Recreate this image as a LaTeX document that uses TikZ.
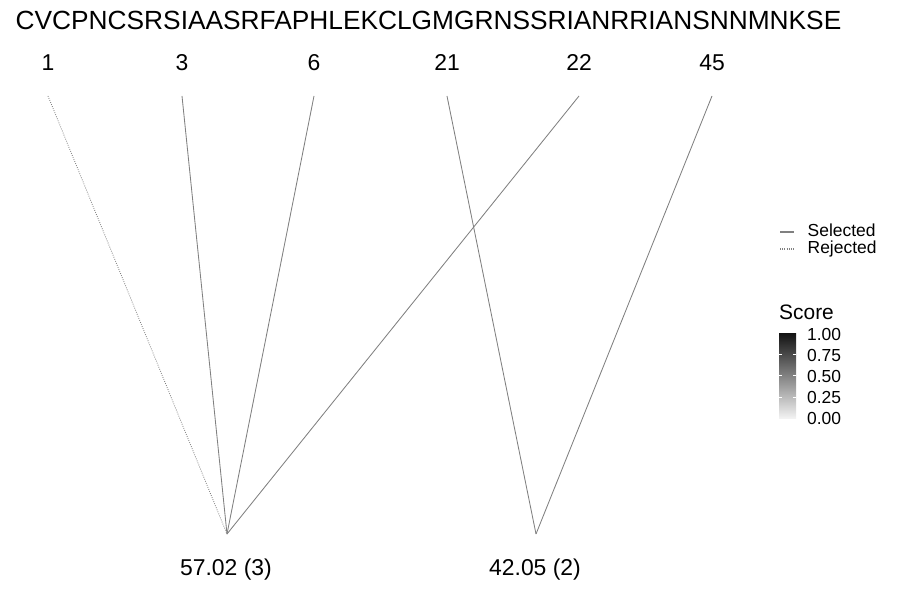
\documentclass[tikz,border=0pt]{standalone}
\usepackage{fontspec}
\setmainfont{Liberation Sans}
\tikzset{
    seqlabel/.style={anchor=base, inner sep=0pt, font=\fontsize{26.4}{30}\selectfont},
    poslabel/.style={anchor=base, inner sep=0pt, font=\fontsize{23}{27}\selectfont},
    keytext/.style={anchor=base west, inner sep=0pt, font=\fontsize{17.5}{21}\selectfont},
    selected/.style={draw=black!50, line width=0.85bp},
    rejected/.style={draw=black!50, line width=0.85bp, dash pattern=on 0.8bp off 1.4bp},
    }

\begin{document}
\begin{tikzpicture}[x=1bp, y=-1bp]
\useasboundingbox (0,0) rectangle (900,600);
% sequence and positions
\node[seqlabel] (seq) at (428.5,30) {CVCPNCSRSIAASRFAPHLEKCLGMGRNSSRIANRRIANSNNMNKSE};
\foreach \pos/\x in {1/48,3/182,6/314,21/447,22/579,45/712} {
    \node[poslabel] (n\pos) at (\x,71) {\pos};
    \coordinate (p\pos) at (\x,96);
}
% clusters
\coordinate (c1) at (227,534);
\coordinate (c2) at (536,534);
\node[poslabel] (s1) at (226,575) {57.02 (3)};
\node[poslabel] (s2) at (535,575) {42.05 (2)};
\draw[rejected] (p1) -- (c1);
\draw[selected] (p3) -- (c1);
\draw[selected] (p6) -- (c1);
\draw[selected] (p22) -- (c1);
\draw[selected] (p21) -- (c2);
\draw[selected] (p45) -- (c2);
% legend
\coordinate (selA) at (780,232);
\coordinate (selB) at (794,232);
\coordinate (rejA) at (780,249);
\coordinate (rejB) at (794,249);
\draw[selected, line width=1.1bp] (selA) -- (selB);
\draw[rejected, line width=1.1bp] (rejA) -- (rejB);
\node[keytext] (selT) at (807.5,237) {Selected};
\node[keytext] (rejT) at (807.5,254) {Rejected};
\node[keytext, font=\fontsize{21}{25}\selectfont] (score) at (779,319) {Score};
\shade[top color=black!93, bottom color=black!5] (779,333) rectangle (796,418);
\foreach \y in {354,375,397} {
    \draw[white, line width=0.5bp] (779,\y) -- ++(3,0);
    \draw[white, line width=0.5bp] (796,\y) -- ++(-3,0);
}
\foreach \v/\y in {1.00/334,0.75/355,0.50/376,0.25/397,0.00/418}
    \node[keytext, anchor=west] at (807,\y) {\v};
\end{tikzpicture}
\end{document}
